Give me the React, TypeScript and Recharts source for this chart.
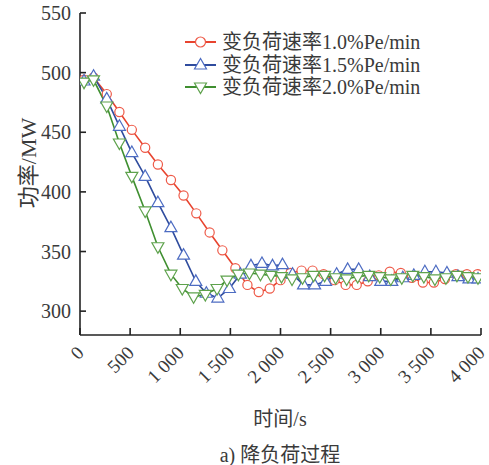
import React from 'react';
import { LineChart, Line, XAxis, YAxis, Legend } from 'recharts';

const redTimes = [40, 135, 267, 393, 517, 650, 777, 907, 1033, 1160, 1293, 1420, 1550, 1670, 1783, 1893, 2000, 2100, 2210, 2320, 2430, 2540, 2650, 2760, 2870, 2980, 3090, 3200, 3310, 3420, 3530, 3640, 3750, 3860, 3965];
const redValues = [494, 496, 482, 467, 452, 437, 423, 410, 397, 382, 366, 351, 336, 322, 316, 319, 326, 332, 334, 334, 331, 326, 322, 322, 325, 330, 333, 332, 328, 324, 324, 327, 331, 331, 331];

const blueTimes = [40, 135, 267, 393, 517, 650, 777, 907, 1033, 1155, 1260, 1375, 1490, 1600, 1705, 1815, 1920, 2020, 2120, 2230, 2340, 2450, 2560, 2670, 2780, 2890, 3000, 3110, 3220, 3330, 3440, 3550, 3660, 3770, 3880, 3970];
const blueValues = [493, 497, 478, 455, 433, 413, 391, 370, 347, 325, 315, 311, 319, 331, 338, 340, 338, 339, 331, 322, 322, 325, 331, 335, 335, 329, 325, 325, 328, 330, 333, 333, 332, 329, 327, 327];

const greenTimes = [40, 135, 267, 393, 517, 650, 777, 907, 1020, 1133, 1250, 1367, 1467, 1580, 1690, 1800, 1905, 2010, 2115, 2220, 2330, 2440, 2550, 2660, 2770, 2880, 2990, 3100, 3210, 3320, 3430, 3540, 3650, 3760, 3870, 3970];
const greenValues = [492, 494, 472, 441, 413, 384, 354, 331, 319, 312, 314, 319, 326, 331, 332, 331, 330, 329, 327, 328, 330, 330, 328, 327, 329, 330, 329, 327, 328, 330, 329, 327, 328, 330, 329, 328];

const seriesNames = ['变负荷速率1.0%Pe/min', '变负荷速率1.5%Pe/min', '变负荷速率2.0%Pe/min'];
const xTicks = [0, 500, 1000, 1500, 2000, 2500, 3000, 3500, 4000];
const yTicks = [300, 350, 400, 450, 500, 550];
const xTitle = '时间/s';
const yTitle = '功率/MW';
const caption = 'a) 降负荷过程';

const toRows = (times: number[], values: number[]) => times.map((t, i) => ({ t, v: values[i] }));
const redData = toRows(redTimes, redValues);
const blueData = toRows(blueTimes, blueValues);
const greenData = toRows(greenTimes, greenValues);

const FONT = '"Liberation Serif", "Noto Sans CJK SC", serif';
const TEXT = '#3a3a3a';
const AXIS = '#222';

const RED = '#e8442f';
const RED_M = '#ee5a48';
const BLUE = '#2f4c9e';
const BLUE_M = '#4d6cc2';
const GREEN = '#3f8f30';
const GREEN_M = '#5ea24c';

const fmt = (v: number) => (v >= 1000 ? `${Math.floor(v / 1000)} ${String(v % 1000).padStart(3, '0')}` : String(v));

const circleDot = (p: any) => (
  <circle key={`r-${p.index}`} cx={p.cx} cy={p.cy} r={4.6} fill="#fff" stroke={RED_M} strokeWidth={1.2} />
);
const upDot = (p: any) => (
  <polygon
    key={`b-${p.index}`}
    points={`${p.cx},${p.cy - 6.5} ${p.cx - 6},${p.cy + 4} ${p.cx + 6},${p.cy + 4}`}
    fill="#fff"
    stroke={BLUE_M}
    strokeWidth={1.2}
  />
);
const downDot = (p: any) => (
  <polygon
    key={`g-${p.index}`}
    points={`${p.cx - 6},${p.cy - 4} ${p.cx + 6},${p.cy - 4} ${p.cx},${p.cy + 6.5}`}
    fill="#fff"
    stroke={GREEN_M}
    strokeWidth={1.2}
  />
);

const YTick = (props: any) => {
  const { x, y, payload } = props;
  return (
    <g>
      <line x1={x} x2={x + 6} y1={y} y2={y} stroke={AXIS} strokeWidth={1.6} />
      <text x={x - 9} y={y} textAnchor="end" dominantBaseline="central" fontFamily={FONT} fontSize={20} fill={TEXT}>
        {fmt(payload.value)}
      </text>
    </g>
  );
};

const XTick = (props: any) => {
  const { x, y, payload } = props;
  const tx = x + 5;
  const ty = y + 19;
  return (
    <g>
      <line x1={x} x2={x} y1={y} y2={y - 7} stroke={AXIS} strokeWidth={1.6} />
      <text x={tx} y={ty} textAnchor="end" transform={`rotate(-45 ${tx} ${ty})`} fontFamily={FONT} fontSize={19} fill={TEXT}>
        {fmt(payload.value)}
      </text>
    </g>
  );
};

const legendItems = [
  { name: seriesNames[0], color: RED, marker: 'circle' },
  { name: seriesNames[1], color: BLUE, marker: 'up' },
  { name: seriesNames[2], color: GREEN, marker: 'down' },
];

const LegendContent = () => (
  <div style={{ fontFamily: FONT, fontSize: 20, color: TEXT }}>
    {legendItems.map((it) => (
      <div key={it.name} style={{ display: 'flex', alignItems: 'center', height: 22.5, whiteSpace: 'nowrap' }}>
        <svg width={32} height={22} style={{ display: 'block' }}>
          <line x1={0} x2={31} y1={11} y2={11} stroke={it.color} strokeWidth={2} />
          {it.marker === 'circle' && <circle cx={15.5} cy={11} r={5} fill="#fff" stroke={RED_M} strokeWidth={1.2} />}
          {it.marker === 'up' && (
            <polygon points="15.5,4.5 9.5,15 21.5,15" fill="#fff" stroke={BLUE_M} strokeWidth={1.2} />
          )}
          {it.marker === 'down' && (
            <polygon points="9.5,7 21.5,7 15.5,17.5" fill="#fff" stroke={GREEN_M} strokeWidth={1.2} />
          )}
        </svg>
        <span style={{ marginLeft: 5, lineHeight: '22px' }}>{it.name}</span>
      </div>
    ))}
  </div>
);

export default function App() {
  return (
    <div style={{ position: 'absolute', left: 0, top: 0, width: 489, height: 465, background: '#fff' }}>
      <LineChart width={489} height={465} margin={{ top: 13, right: 8, bottom: 0, left: 0 }}>
        <XAxis
          type="number"
          dataKey="t"
          domain={[0, 4000]}
          ticks={xTicks}
          allowDataOverflow
          height={130}
          tickSize={0}
          tickMargin={0}
          tick={<XTick />}
          axisLine={{ stroke: AXIS, strokeWidth: 1.6 }}
          tickLine={false}
          interval={0}
          label={{
            content: () => (
              <g>
                <text x={280} y={426} textAnchor="middle" fontFamily={FONT} fontSize={20} fill={TEXT}>
                  {xTitle}
                </text>
                <text x={280} y={462} textAnchor="middle" fontFamily={FONT} fontSize={20} fill={TEXT}>
                  {caption}
                </text>
              </g>
            ),
          }}
        />
        <YAxis
          type="number"
          domain={[280, 550]}
          ticks={yTicks}
          allowDataOverflow
          width={80}
          tickSize={0}
          tickMargin={0}
          tick={<YTick />}
          axisLine={{ stroke: AXIS, strokeWidth: 1.6 }}
          tickLine={false}
          interval={0}
          label={{
            content: () => (
              <text
                x={28}
                y={163}
                textAnchor="middle"
                dominantBaseline="central"
                transform="rotate(-90 28 163)"
                fontFamily={FONT}
                fontSize={22}
                fill={TEXT}
              >
                {yTitle}
              </text>
            ),
          }}
        />
        <Legend
          layout="vertical"
          align="center"
          verticalAlign="middle"
          content={<LegendContent />}
          wrapperStyle={{ left: 185, top: 31, width: 'auto', height: 'auto' }}
        />
        <Line
          data={redData}
          dataKey="v"
          name={seriesNames[0]}
          stroke={RED}
          strokeWidth={1.6}
          dot={circleDot}
          isAnimationActive={false}
          legendType="circle"
        />
        <Line
          data={blueData}
          dataKey="v"
          name={seriesNames[1]}
          stroke={BLUE}
          strokeWidth={1.6}
          dot={upDot}
          isAnimationActive={false}
          legendType="triangle"
        />
        <Line
          data={greenData}
          dataKey="v"
          name={seriesNames[2]}
          stroke={GREEN}
          strokeWidth={1.6}
          dot={downDot}
          isAnimationActive={false}
          legendType="triangle"
        />
      </LineChart>
    </div>
  );
}
